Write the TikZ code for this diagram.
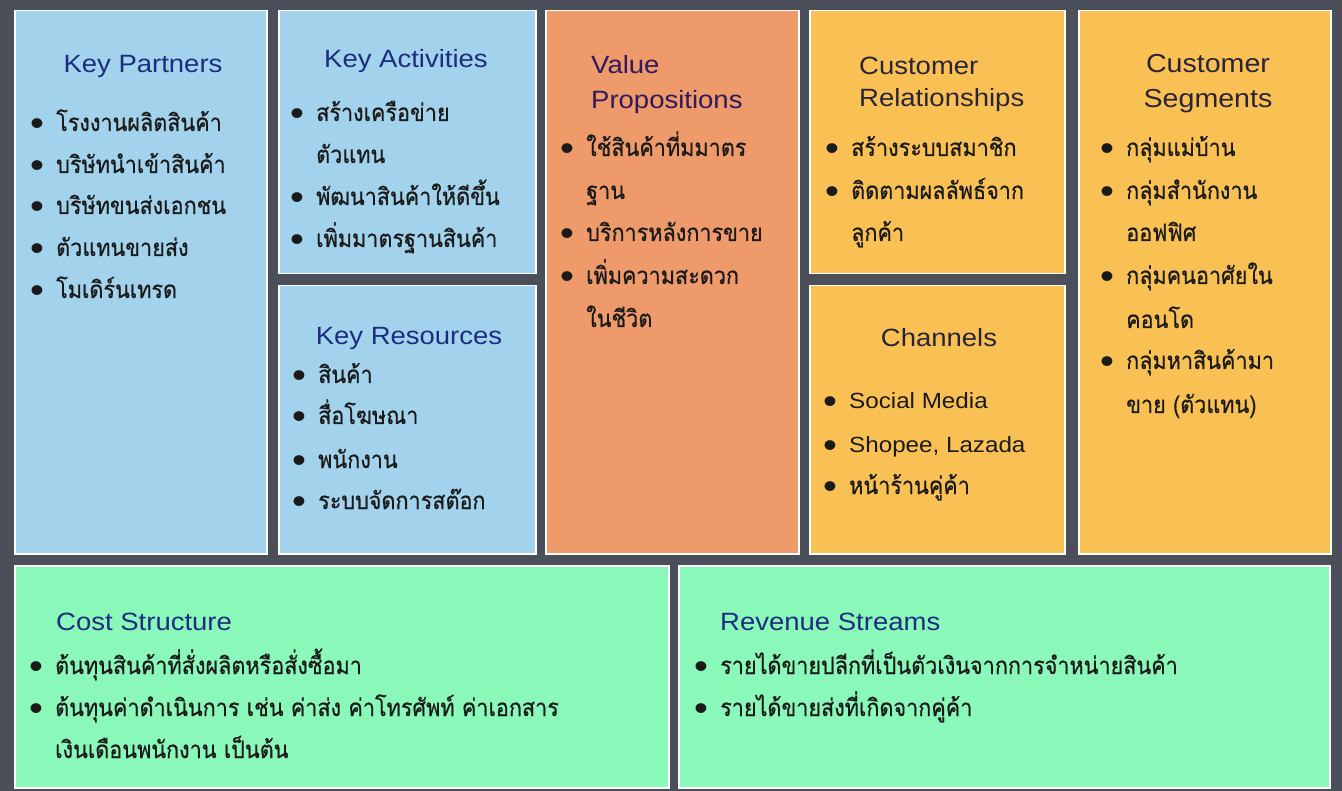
\documentclass[tikz,border=0pt]{standalone}
\usepackage{fontspec}
\setmainfont{Liberation Sans}[FakeStretch=1.1]
\newfontfamily\thaifont[Script=Thai,FakeStretch=0.9,FakeBold=0.6]{Loma}
\definecolor{bggrey}{HTML}{4B4F59}
\definecolor{kpblue}{HTML}{A2D2EC}
\definecolor{vporange}{HTML}{EE9A6A}
\definecolor{cryellow}{HTML}{F9C154}
\definecolor{csgreen}{HTML}{8AF8B8}
\definecolor{navy}{HTML}{1D2D80}
\definecolor{plum}{HTML}{2E1A5C}
\definecolor{darkhead}{HTML}{2A2438}
\definecolor{itemtext}{HTML}{1A1A1A}
\tikzstyle{box}=[rectangle, draw=white, line width=1.5pt, anchor=north west, inner sep=0pt]
\tikzstyle{head}=[font=\fontsize{25}{30}\selectfont, inner sep=0pt, anchor=base]
\tikzstyle{item}=[font=\thaifont\fontsize{24}{24}\selectfont, text=itemtext, inner sep=0pt, anchor=base west]
\newcommand{\bitem}[4]{\node[item] (#1) at (#2,#3) {\makebox[26pt][l]{\raisebox{-4.5pt}{\normalfont\fontsize{36}{36}\selectfont •}}#4};}
\newcommand{\citem}[4]{\node[item] (#1) at (#2,#3) {\hspace{26pt}#4};}
\newcommand{\latin}[1]{{\normalfont\fontsize{22}{22}\selectfont #1}}
\begin{document}
\begin{tikzpicture}[x=1pt,y=-1pt]
	\fill[bggrey] (0,0) rectangle (1342,791);

	% canvas blocks
	\node[box, fill=kpblue, minimum width=252pt, minimum height=543pt] (kp) at (14,10) {};
	\node[box, fill=kpblue, minimum width=257pt, minimum height=263pt] (ka) at (278,10) {};
	\node[box, fill=kpblue, minimum width=257pt, minimum height=268pt] (kr) at (278,285) {};
	\node[box, fill=vporange, minimum width=253pt, minimum height=543pt] (vp) at (545,10) {};
	\node[box, fill=cryellow, minimum width=255pt, minimum height=263pt] (cr) at (809,10) {};
	\node[box, fill=cryellow, minimum width=255pt, minimum height=268pt] (ch) at (809,285) {};
	\node[box, fill=cryellow, minimum width=252pt, minimum height=543pt] (cs) at (1078,10) {};
	\node[box, fill=csgreen, minimum width=654pt, minimum height=222pt] (cost) at (14,565) {};
	\node[box, fill=csgreen, minimum width=651pt, minimum height=222pt] (rev) at (678,565) {};

	% headings
	\node[head, text=navy] (kptitle) at (143,73) {Key Partners};
	\node[head, text=navy] (katitle) at (406,68) {Key Activities};
	\node[head, text=navy] (krtitle) at (409,345) {Key Resources};
	\node[head, text=plum, anchor=north west, align=left, font=\fontsize{25}{35}\selectfont] (vptitle) at (591,55) {Value\\Propositions};
	\node[head, text=darkhead, anchor=north west, align=left, font=\fontsize{25}{32}\selectfont] (crtitle) at (859,57) {Customer\\Relationships};
	\node[head, text=darkhead] (chtitle) at (939,347) {Channels};
	\node[head, text=darkhead, anchor=north, align=center, font=\fontsize{26}{35}\selectfont] (cstitle) at (1208,54) {Customer\\Segments};
	\node[head, text=navy, anchor=base west] (costtitle) at (56,630) {Cost Structure};
	\node[head, text=navy, anchor=base west] (revtitle) at (720,630) {Revenue Streams};

	% key partners
	\bitem{kp1}{30}{131}{โรงงานผลิตสินค้า}
	\bitem{kp2}{30}{173}{บริษัทนำเข้าสินค้า}
	\bitem{kp3}{30}{214}{บริษัทขนส่งเอกชน}
	\bitem{kp4}{30}{256}{ตัวแทนขายส่ง}
	\bitem{kp5}{30}{298}{โมเดิร์นเทรด}

	% key activities
	\bitem{ka1}{290}{121}{สร้างเครือข่าย}
	\citem{ka1b}{290}{163}{ตัวแทน}
	\bitem{ka2}{290}{205}{พัฒนาสินค้าให้ดีขึ้น}
	\bitem{ka3}{290}{247}{เพิ่มมาตรฐานสินค้า}

	% key resources
	\bitem{kr1}{292}{383}{สินค้า}
	\bitem{kr2}{292}{424}{สื่อโฆษณา}
	\bitem{kr3}{292}{468}{พนักงาน}
	\bitem{kr4}{292}{509}{ระบบจัดการสต๊อก}

	% value propositions
	\bitem{vp1}{560}{156}{ใช้สินค้าที่มมาตร}
	\citem{vp1b}{560}{199}{ฐาน}
	\bitem{vp2}{560}{241}{บริการหลังการขาย}
	\bitem{vp3}{560}{284}{เพิ่มความสะดวก}
	\citem{vp3b}{560}{327}{ในชีวิต}

	% customer relationships
	\bitem{cr1}{825}{156}{สร้างระบบสมาชิก}
	\bitem{cr2}{825}{199}{ติดตามผลลัพธ์จาก}
	\citem{cr2b}{825}{241}{ลูกค้า}

	% channels
	\bitem{ch1}{823}{409}{\latin{Social Media}}
	\bitem{ch2}{823}{453}{\latin{Shopee, Lazada}}
	\bitem{ch3}{823}{494}{หน้าร้านคู่ค้า}

	% customer segments
	\bitem{cs1}{1100}{156}{กลุ่มแม่บ้าน}
	\bitem{cs2}{1100}{199}{กลุ่มสำนักงาน}
	\citem{cs2b}{1100}{241}{ออฟฟิศ}
	\bitem{cs3}{1100}{284}{กลุ่มคนอาศัยใน}
	\citem{cs3b}{1100}{328}{คอนโด}
	\bitem{cs4}{1100}{369}{กลุ่มหาสินค้ามา}
	\citem{cs4b}{1100}{413}{ขาย (ตัวแทน)}

	% cost structure
	\bitem{cost1}{29}{674}{ต้นทุนสินค้าที่สั่งผลิตหรือสั่งซื้อมา}
	\bitem{cost2}{29}{716}{ต้นทุนค่าดำเนินการ เช่น ค่าส่ง ค่าโทรศัพท์ ค่าเอกสาร}
	\citem{cost2b}{29}{758}{เงินเดือนพนักงาน เป็นต้น}

	% revenue streams
	\bitem{rev1}{694}{674}{รายได้ขายปลีกที่เป็นตัวเงินจากการจำหน่ายสินค้า}
	\bitem{rev2}{694}{716}{รายได้ขายส่งที่เกิดจากคู่ค้า}
\end{tikzpicture}
\end{document}
